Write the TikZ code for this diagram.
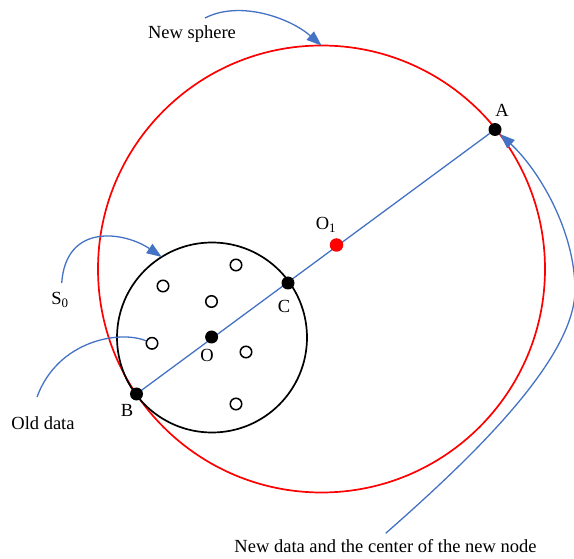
\documentclass[tikz,border=0pt]{standalone}
\usepackage{fontspec}
\setmainfont{Liberation Serif}
\usetikzlibrary{arrows.meta,backgrounds}
\definecolor{lblue}{RGB}{68,114,196}
\begin{document}
\begin{tikzpicture}[x=1pt,y=-1pt,
  every node/.style={font=\fontsize{18.5}{22}\selectfont},
  sphere/.style={circle,line width=1.7pt,inner sep=0pt,outer sep=0pt},
  dot/.style={circle,fill=black,inner sep=0pt,minimum size=13pt},
  hollow/.style={circle,draw=black,line width=1.5pt,inner sep=0pt,minimum size=11.5pt,fill=white},
  lbl/.style={inner sep=0pt},
  pointer/.style={draw=lblue,line width=1.3pt},
  tip/.style={-{Triangle[length=15pt,width=11pt]}}
]
\useasboundingbox (0,0) rectangle (574,559);
% spheres
\node[sphere,draw=red,minimum size=447pt] (NS) at (321.5,269) {};
\node[sphere,draw=black,minimum size=190pt] (S) at (212,337.5) {};
% old data points
\node[hollow] (h1) at (236,265) {};
\node[hollow] (h2) at (163,286) {};
\node[hollow] (h3) at (211.5,301.5) {};
\node[hollow] (h4) at (152,343.3) {};
\node[hollow] (h5) at (246,352) {};
\node[hollow] (h6) at (236,404) {};
% key points
\node[dot] (A) at (495,129.5) {};
\node[dot] (B) at (136.5,394) {};
\node[dot] (C) at (288,283) {};
\node[dot] (O) at (211.6,337) {};
\node[dot,fill=red,minimum size=13.5pt] (O1) at (336.5,245) {};
\begin{scope}[on background layer]
  \draw[lblue,line width=1.3pt] (B.center) -- (A.center);
\end{scope}
% labels
\node[lbl] (lA) at (502,110.5) {A};
\node[lbl] (lB) at (127,410.7) {B};
\node[lbl] (lC) at (284,306.6) {C};
\node[lbl] (lO) at (207,355.8) {O};
\node[lbl] (lO1) at (326,225) {O\textsubscript{1}};
\node[lbl] (lS0) at (60,300) {S\textsubscript{0}};
\node[lbl] (lOld) at (43,423) {Old data};
\node[lbl] (lNS) at (192,34) {New sphere};
\node[lbl] (lND) at (385.5,546.5) {New data and the center of the new node};
% pointers
\coordinate (p1) at (205,18);
\coordinate (p2) at (61.7,283);
\coordinate (p3) at (37,397);
\coordinate (p4) at (385.7,533.3);
\draw[pointer,tip] (p1) .. controls (240,0) and (290,18) .. (NS.90);
\draw[pointer,tip] (p2) .. controls (66,222) and (125,232) .. (S.122.7);
\draw[pointer] (p3) .. controls (58,340) and (120,330) .. (h4);
\draw[pointer,tip] (p4) .. controls (468,461) and (575,360) .. (575,290)
   .. controls (575,230) and (538,169) .. (A);
\end{tikzpicture}
\end{document}
